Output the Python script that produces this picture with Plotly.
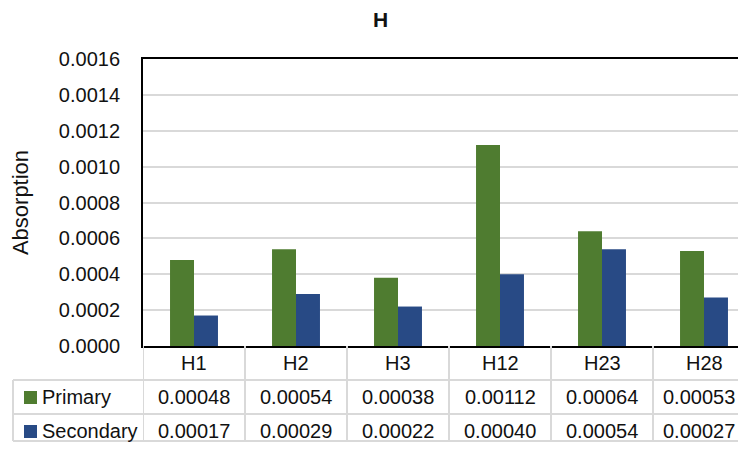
import plotly.graph_objects as go

categories = ['H1', 'H2', 'H3', 'H12', 'H23', 'H28']
primary = [0.00048, 0.00054, 0.00038, 0.00112, 0.00064, 0.00053]
secondary = [0.00017, 0.00029, 0.00022, 0.00040, 0.00054, 0.00027]
series_names = ['Primary', 'Secondary']
y_ticks = [0, 0.0002, 0.0004, 0.0006, 0.0008, 0.0010, 0.0012, 0.0014, 0.0016]

green = '#4f7c30'
blue = '#284a85'
grid = '#d9d9d9'
font = 'Liberation Sans'
fsize = 20

# page body has an 8px margin, so the figure is drawn 8px in from the corner
OFF = 8
W, H = 746 - 2 * OFF, 450 - 2 * OFF
L, T = 143 - OFF, 59 - OFF
B = H - (346 - OFF)
plot_h = H - T - B
plot_w = W - L


def py(pix):
    # reference pixel row -> paper y
    return (346 - pix) / plot_h


def px(pix):
    return (pix - 143) / plot_w


fig = go.Figure()
fig.add_trace(go.Bar(x=list(range(len(categories))), y=primary, name=series_names[0],
                     marker=dict(color=green, line=dict(width=0))))
fig.add_trace(go.Bar(x=list(range(len(categories))), y=secondary, name=series_names[1],
                     marker=dict(color=blue, line=dict(width=0))))

shapes = []
annotations = []

# chart title
annotations.append(dict(x=px(380), y=py(19), xref='paper', yref='paper', text='<b>H</b>',
                        showarrow=False, xanchor='center', yanchor='middle',
                        font=dict(family=font, size=21, color='#111')))

# data table under the chart
row_y = [py(363), py(397), py(431)]
h_lines = [py(380), py(414), py(441)]
for yl in h_lines:
    shapes.append(dict(type='line', xref='paper', yref='paper', x0=px(13), x1=1, y0=yl, y1=yl,
                       line=dict(color=grid, width=2)))
for i in range(len(categories) + 1):
    shapes.append(dict(type='line', xref='x', yref='paper', x0=i - 0.5, x1=i - 0.5,
                       y0=0, y1=h_lines[-1], line=dict(color=grid, width=2)))
shapes.append(dict(type='line', xref='paper', yref='paper', x0=px(13), x1=px(13),
                   y0=h_lines[0], y1=h_lines[-1], line=dict(color=grid, width=2)))

txt = dict(family=font, size=fsize, color='#111')
cell = dict(xref='x', yref='paper', showarrow=False, xanchor='center', yanchor='middle', font=txt)
for i, c in enumerate(categories):
    shift = -5 if i == len(categories) - 1 else 0
    annotations.append(dict(x=i, y=row_y[0], text=c, **cell))
    annotations.append(dict(x=i, y=row_y[1], text=f'{primary[i]:.5f}', xshift=shift, **cell))
    annotations.append(dict(x=i, y=row_y[2], text=f'{secondary[i]:.5f}', xshift=shift, **cell))

for name, col, ry, top in [(series_names[0], green, row_y[1], 391), (series_names[1], blue, row_y[2], 425)]:
    shapes.append(dict(type='rect', xref='paper', yref='paper', x0=px(24), x1=px(37),
                       y0=py(top), y1=py(top + 13), fillcolor=col, line=dict(width=0)))
    annotations.append(dict(x=px(40), y=ry, xref='paper', yref='paper', text=name, showarrow=False,
                            xanchor='left', yanchor='middle', font=txt))

fig.update_layout(
    width=W, height=H,
    margin=dict(l=L, r=0, t=T, b=B, autoexpand=False),
    paper_bgcolor='white', plot_bgcolor='white',
    barmode='group', bargap=0.53, bargroupgap=0,
    showlegend=False,
    shapes=shapes, annotations=annotations,
    font=txt,
)
fig.update_xaxes(range=[-0.5, -0.5 + plot_w / 102], showticklabels=False, ticks='',
                 showgrid=False, zeroline=False, showline=True, mirror=True,
                 linecolor='black', linewidth=2, automargin=False)
fig.update_yaxes(range=[0, 0.0016], tickvals=y_ticks, tickformat='.4f', showgrid=True,
                 gridcolor=grid, gridwidth=2, zeroline=False, showline=True,
                 linecolor='black', linewidth=2, ticks='', ticklen=0, automargin=False,
                 ticklabelstandoff=17,
                 title=dict(text='Absorption', font=dict(family=font, size=22, color='#111'),
                            standoff=24),
                 tickfont=txt)

fig.write_html('out.html')
